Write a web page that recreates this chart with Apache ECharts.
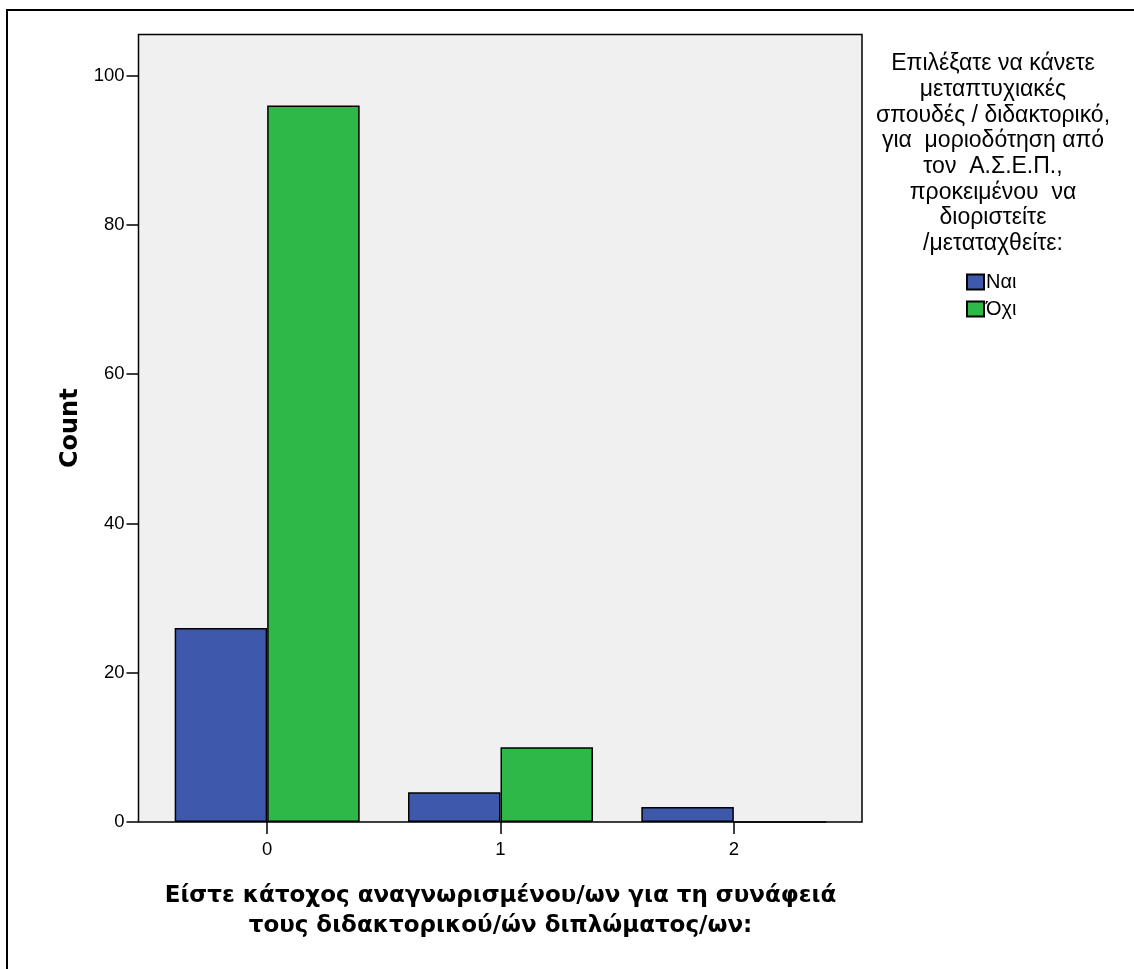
<!DOCTYPE html>
<html><head><meta charset="utf-8">
<script src="https://cdn.jsdelivr.net/npm/echarts@6/dist/echarts.min.js"></script>
<style>html,body{margin:0;padding:0;background:#fff}#c{width:1134px;height:969px}</style>
</head><body><div id="c"></div>
<script>
const categories = ['0', '1', '2'];
const seriesNames = ['Ναι', 'Όχι'];
const naiValues = [26, 4, 2];
const ochiValues = [96, 10, 0];
const yTicks = [0, 20, 40, 60, 80, 100];
const legendTitle = 'Επιλέξατε να κάνετε\nμεταπτυχιακές\nσπουδές / διδακτορικό,\nγια  μοριοδότηση από\nτον  Α.Σ.Ε.Π.,\nπροκειμένου  να\nδιοριστείτε\n/μεταταχθείτε:';
const xTitle = 'Είστε κάτοχος αναγνωρισμένου/ων για τη συνάφειά\nτους διδακτορικού/ών διπλώματος/ων:';
const yTitle = 'Count';

const chart = echarts.init(document.getElementById('c'), null, {renderer: 'canvas'});
const font = 'Liberation Sans, Arial, sans-serif';
const boldFont = 'DejaVu Sans, Liberation Sans, sans-serif';
chart.setOption({
  animation: false,
  backgroundColor: '#fff',
  textStyle: {fontFamily: font},
  graphic: [
    {type: 'rect', shape: {x: 7, y: 10, width: 1300, height: 1100}, style: {fill: 'none', stroke: '#000', lineWidth: 2}, z: 0},
    {type: 'rect', shape: {x: 138.5, y: 34.5, width: 723.5, height: 787.5}, style: {fill: '#F0F0F0', stroke: 'none'}, z: -1},
    {type: 'rect', shape: {x: 138.5, y: 34.5, width: 723.5, height: 787.5}, style: {fill: 'none', stroke: '#000', lineWidth: 1.5}, z: 100},
    {type: 'text', left: 993 - 130, top: 51, style: {text: legendTitle, width: 260, align: 'center', fontSize: 23, lineHeight: 25.7, fill: '#000', fontFamily: font, textAlign: 'center', x: 130}}
  ],
  legend: {
    orient: 'vertical', left: 966, top: 272, padding: 0, itemWidth: 17, itemHeight: 15, itemGap: 7,
    icon: 'rect',
    textStyle: {fontSize: 20, lineHeight: 15, color: '#000', fontFamily: font, padding: [0, 0, 0, -3]},
    data: seriesNames
  },
  grid: {left: 150.5, right: 283.5, top: 34.5, bottom: 147},
  xAxis: {
    type: 'category', data: categories,
    axisLine: {show: false},
    axisTick: {show: true, alignWithLabel: true, length: 12, lineStyle: {color: '#000', width: 1.5}},
    axisLabel: {fontSize: 18.5, color: '#000', margin: 18},
    name: xTitle, nameLocation: 'middle', nameGap: 59,
    nameTextStyle: {fontSize: 23, fontWeight: 'bold', color: '#000', lineHeight: 30, fontFamily: boldFont}
  },
  yAxis: {
    type: 'value', min: 0, max: 105.5, interval: 20, offset: 12,
    splitLine: {show: false},
    axisLine: {show: false},
    axisTick: {show: true, length: 12, customValues: yTicks, lineStyle: {color: '#000', width: 1.5}},
    axisLabel: {fontSize: 18.5, color: '#000', margin: 14, customValues: yTicks},
    name: yTitle, nameLocation: 'middle', nameGap: 56, nameRotate: 90,
    nameTextStyle: {fontSize: 24, fontWeight: 'bold', color: '#000', fontFamily: boldFont}
  },
  series: [
    {name: seriesNames[0], type: 'bar', data: naiValues, barWidth: 92.5, barGap: '0%',
     itemStyle: {color: '#3E58AC', borderColor: '#000', borderWidth: 1.5}},
    {name: seriesNames[1], type: 'bar', data: ochiValues, barWidth: 92.5, barGap: '0%',
     itemStyle: {color: '#2EB848', borderColor: '#000', borderWidth: 1.5}}
  ]
});
</script></body></html>
